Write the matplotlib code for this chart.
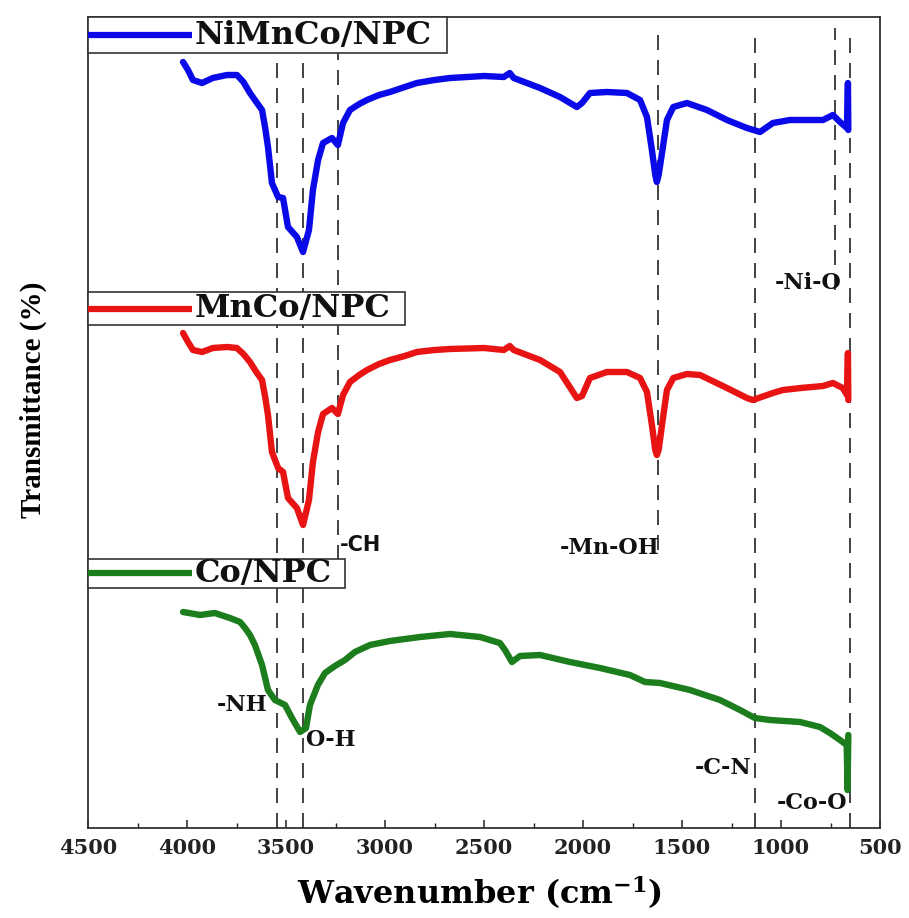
import matplotlib
matplotlib.use('Agg')
import matplotlib.pyplot as plt
from matplotlib.patches import Rectangle
from matplotlib.ticker import MultipleLocator

plt.rcParams['font.family'] = ['DejaVu Serif']
plt.rcParams['font.weight'] = 'bold'
plt.rcParams['mathtext.fontset'] = 'dejavuserif'

# ---------------- data (offset transmittance, arbitrary units) ----------------
series_names = ['NiMnCo/NPC', 'MnCo/NPC', 'Co/NPC']
series_colors = ['#0a0ae8', '#e81414', '#1b7d1b']

wn_nimnco = [4020, 3995, 3970, 3924, 3870, 3798, 3748, 3715, 3682, 3650, 3621, 3605,
             3591, 3571, 3540, 3515, 3490, 3445, 3414, 3384, 3364, 3338, 3313, 3268,
             3238, 3212, 3177, 3130, 3091, 3030, 2975, 2900, 2839, 2750, 2672, 2500,
             2400, 2370, 2350, 2217, 2116, 2031, 2005, 1965, 1879, 1778, 1712, 1677,
             1652, 1635, 1627, 1618, 1601, 1576, 1544, 1475, 1374, 1273, 1172, 1106,
             1041, 955, 788, 738, 702, 667, 662, 660]
t_nimnco = [766, 758, 748, 745, 750, 753, 753, 746, 735, 726, 718, 700,
            681, 645, 631, 630, 601, 591, 576, 598, 638, 668, 685, 690,
            683, 705, 718, 724, 728, 733, 736, 741, 745, 748, 750, 752,
            751, 755, 750, 740, 731, 721, 725, 735, 736, 735, 728, 711,
            678, 653, 646, 653, 675, 708, 721, 725, 718, 708, 700, 696,
            705, 708, 708, 713, 706, 700, 745, 698]

wn_mnco = [4020, 3995, 3970, 3924, 3870, 3798, 3748, 3715, 3682, 3650, 3621, 3605,
           3591, 3571, 3540, 3515, 3490, 3445, 3414, 3384, 3364, 3338, 3313, 3268,
           3238, 3212, 3177, 3130, 3091, 3030, 2975, 2900, 2839, 2750, 2672, 2500,
           2400, 2370, 2350, 2217, 2116, 2031, 2005, 1965, 1879, 1778, 1712, 1677,
           1652, 1635, 1627, 1618, 1601, 1576, 1544, 1475, 1409, 1273, 1172, 1142,
           1041, 990, 900, 788, 738, 688, 667, 662, 660]
t_mnco = [495, 486, 478, 476, 480, 481, 480, 474, 466, 456, 448, 431,
          413, 376, 360, 356, 330, 320, 303, 328, 366, 396, 414, 420,
          414, 433, 446, 453, 458, 464, 468, 472, 476, 478, 479, 480,
          478, 482, 478, 468, 456, 430, 432, 450, 456, 456, 450, 436,
          403, 378, 373, 378, 403, 438, 450, 454, 453, 440, 430, 428,
          435, 438, 440, 442, 445, 440, 433, 475, 428]

wn_co = [4020, 3934, 3860, 3783, 3732, 3707, 3682, 3657, 3621, 3591, 3556, 3505,
         3470, 3429, 3399, 3379, 3339, 3303, 3253, 3202, 3152, 3076, 2975, 2823,
         2672, 2520, 2420, 2394, 2359, 2318, 2217, 2066, 1914, 1763, 1687, 1611,
         1460, 1308, 1207, 1132, 1056, 904, 803, 753, 702, 668, 664, 660]
t_co = [216, 213, 215, 210, 206, 200, 193, 183, 163, 138, 128, 123,
        110, 96, 100, 123, 143, 155, 162, 168, 176, 183, 187, 191,
        194, 191, 185, 178, 166, 172, 173, 166, 160, 153, 146, 145,
        138, 128, 118, 110, 108, 106, 101, 95, 88, 83, 38, 93]

peak_wn = [3547, 3416, 3236, 1623, 1131, 727, 652]
peak_low = [0, 0, 268, 278, 0, 538, 0]
peak_high = [800, 800, 800, 800, 800, 800, 800]

band_labels = ['-NH', 'O-H', '-CH', '-Mn-OH', '-Ni-O', '-C-N', '-Co-O']
band_x = [3591, 3404, 3227, 1864, 864, 1147, 844]
band_y = [123, 88, 283, 280, 545, 60, 25]

xticks = [4500, 4000, 3500, 3000, 2500, 2000, 1500, 1000, 500]

# ---------------- figure ----------------
fig = plt.figure(figsize=(9.09, 9.18), dpi=100)
ax = fig.add_axes([88 / 909, 1 - 828 / 918, 792 / 909, 811 / 918])
ax.set_xlim(4500, 500)
ax.set_ylim(0, 811)

ax.vlines(peak_wn, peak_low, peak_high, colors='#222222',
          linestyles=(0, (9, 6)), linewidth=1.2, zorder=1)

all_wn = [wn_nimnco, wn_mnco, wn_co]
all_t = [t_nimnco, t_mnco, t_co]
for wn, t, c in zip(all_wn, all_t, series_colors):
    ax.plot(wn, t, color=c, lw=4.6, solid_joinstyle='round',
            solid_capstyle='round', zorder=2)

# band annotations
ha_list = ['right', 'left', 'left', 'center', 'center', 'right', 'center']
for lab, x, y, ha in zip(band_labels, band_x, band_y, ha_list):
    if lab == '-CH':
        ax.text(x, y, lab, ha=ha, va='center', fontsize=15,
                family='DejaVu Sans', weight='bold', color='#111111', zorder=4)
    else:
        ax.text(x, y, lab, ha=ha, va='center', fontsize=16,
                weight='bold', color='#111111', zorder=4)

# legend boxes (one per series, in axes coordinates)
box_specs = [(0.955, 0.045, 0.453), (0.620, 0.041, 0.400), (0.296, 0.036, 0.3245)]
for name, c, (y0, h, w) in zip(series_names, series_colors, box_specs):
    ax.add_patch(Rectangle((0, y0), w, h, transform=ax.transAxes,
                           facecolor='white', edgecolor='#333333', lw=1.2,
                           zorder=5, clip_on=False))
    yc = y0 + h / 2
    ax.plot([0, 0.131], [yc, yc], transform=ax.transAxes, color=c, lw=4.5,
            solid_capstyle='butt', zorder=6, clip_on=False)
    ax.text(0.134, yc, name, transform=ax.transAxes, ha='left', va='center',
            fontsize=23, weight='bold', color='#111111', zorder=7)

# axes styling
ax.set_xticks(xticks)
ax.xaxis.set_minor_locator(MultipleLocator(250))
ax.tick_params(axis='x', which='major', direction='in', length=6, width=1.1,
               labelsize=15, pad=7, colors='#222222')
ax.tick_params(axis='x', which='minor', direction='in', length=3.5, width=1.0,
               colors='#222222')
ax.tick_params(axis='y', left=False, labelleft=False)
for sp in ax.spines.values():
    sp.set_linewidth(1.3)
    sp.set_color('#333333')

ax.set_xlabel(r'Wavenumber (cm$^{\mathbf{-1}}$)', fontsize=23, weight='bold')
ax.xaxis.set_label_coords(0.495, -0.057)
ax.set_ylabel('Transmittance (%)', fontsize=21, weight='bold',
              family='Liberation Serif')
ax.yaxis.set_label_coords(-0.052, 0.528)

fig.savefig('out.png', dpi=100, facecolor='white')
